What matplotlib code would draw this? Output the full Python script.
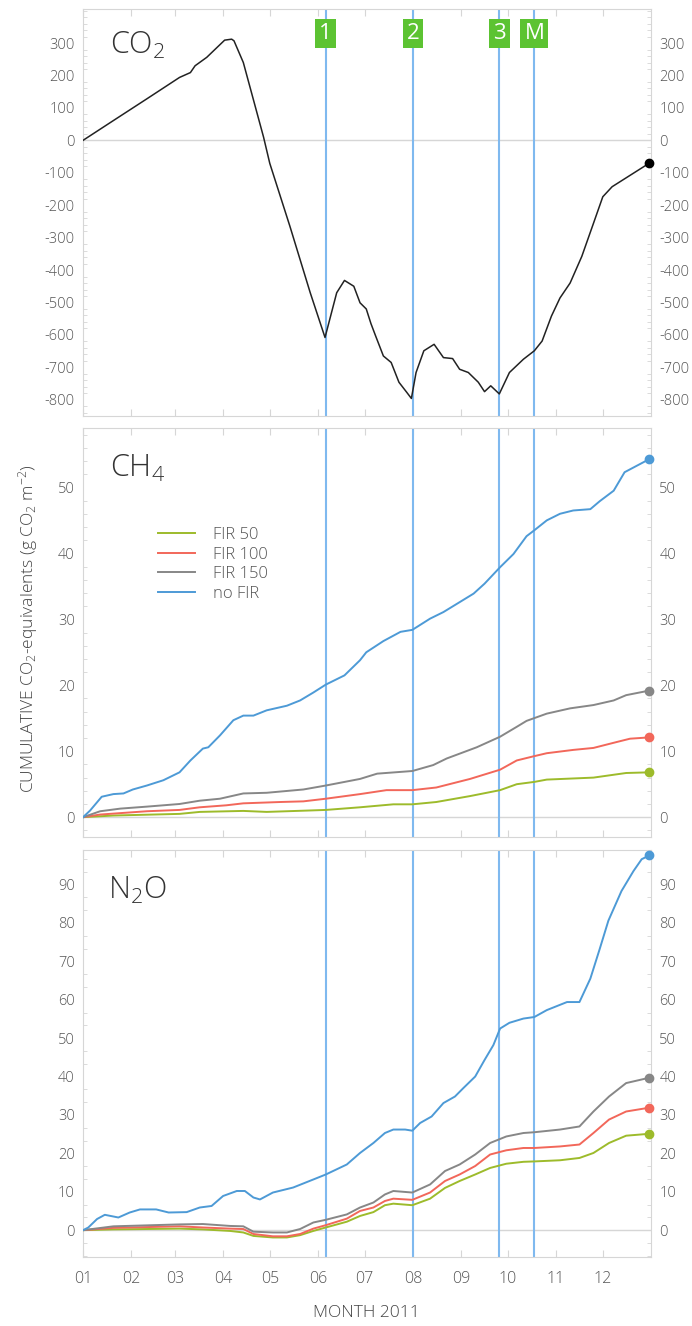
import matplotlib
matplotlib.use('Agg')
import matplotlib.pyplot as plt
from matplotlib.ticker import MultipleLocator, FixedLocator

plt.rcParams['font.family'] = ['Open Sans', 'DejaVu Sans']
plt.rcParams['font.weight'] = 'light'
plt.rcParams['mathtext.default'] = 'regular'
plt.rcParams['axes.unicode_minus'] = False

# x axis is day of year 2011
month_starts = [0, 31, 59, 90, 120, 151, 181, 212, 243, 273, 304, 334]
month_labels = ['01', '02', '03', '04', '05', '06', '07', '08', '09', '10', '11', '12']

event_days = [156, 212, 267.5, 290]
event_labels = ['1', '2', '3', 'M']

series_names = ['FIR 50', 'FIR 100', 'FIR 150', 'no FIR']
series_colors = ['#9dbb2b', '#f2675a', '#878787', '#4d9ad6']

# CO2
co2_day = [0, 19.5, 41, 62, 69, 72, 79.5, 86, 91, 95.5, 97, 103, 116, 120, 133, 146, 155.5, 163, 168, 174,
           178, 182, 185, 188, 193, 198, 203, 208, 211, 214, 219, 225.6, 231.6, 237.5, 242, 247.6, 254, 258,
           262, 267.5, 274, 283, 290, 295, 301, 306.5, 313, 320.5, 328, 334, 340, 364]
co2_val = [0, 61, 128, 194, 209, 230, 256, 286, 309, 312, 307, 240, 10, -71, -266, -470, -608, -470, -432, -450,
           -501, -520, -565, -603, -665, -685, -746, -777, -796, -716, -649, -629, -670, -673, -706, -716, -746, -775,
           -757, -782, -716, -675, -649, -619, -542, -486, -440, -358, -256, -174, -143, -70]

# CH4
ch4_fir50_day = [0, 19.5, 62, 75, 103, 118, 143.7, 156, 178, 199.4, 211.6, 227, 248.7, 268, 278.7, 290, 298, 328, 349, 364]
ch4_fir50_val = [0, 0.25, 0.5, 0.8, 0.95, 0.8, 1.0, 1.1, 1.5, 1.95, 1.95, 2.3, 3.2, 4.1, 5.0, 5.35, 5.7, 6.0, 6.7, 6.8]
ch4_fir100_day = [0, 11, 41, 62, 75, 92, 103, 126.6, 141.6, 156, 178, 195, 211.6, 227, 248.7, 268, 278.7, 289, 298,
                  315, 328, 343, 351.5, 364]
ch4_fir100_val = [0, 0.4, 0.9, 1.1, 1.5, 1.8, 2.1, 2.3, 2.4, 2.8, 3.5, 4.1, 4.1, 4.5, 5.8, 7.2, 8.6, 9.2, 9.7,
                  10.2, 10.5, 11.4, 11.9, 12.1]
ch4_fir150_day = [0, 11, 24, 41, 62, 75, 88, 103, 118, 141.6, 156, 178, 189, 211.6, 225, 233.7, 253, 268, 278.7, 285,
                  298, 313, 328, 341, 349, 364]
ch4_fir150_val = [0, 0.9, 1.3, 1.6, 2.0, 2.5, 2.8, 3.6, 3.7, 4.2, 4.8, 5.8, 6.6, 7.0, 7.9, 8.9, 10.6, 12.2, 13.7, 14.6,
                  15.7, 16.5, 17.0, 17.7, 18.5, 19.2]
ch4_nofir_day = [0, 4.5, 12, 19.5, 26, 32, 41, 51.6, 62, 69, 77, 80.5, 88, 96.6, 103, 109.5, 118, 131, 139.5, 148, 156,
                 168, 178, 182, 193, 204, 211.6, 223, 231.6, 242, 251, 258, 268, 276.6, 285, 290, 298, 306.5, 315,
                 326, 332, 341, 348, 356, 364]
ch4_nofir_val = [0, 1.0, 3.1, 3.5, 3.6, 4.2, 4.8, 5.6, 6.8, 8.6, 10.4, 10.6, 12.4, 14.7, 15.4, 15.4, 16.2, 16.9, 17.7,
                 18.9, 20.1, 21.5, 23.8, 25.0, 26.7, 28.1, 28.4, 30.1, 31.1, 32.6, 33.9, 35.4, 37.9, 39.9, 42.6, 43.5,
                 45.0, 46.0, 46.5, 46.7, 47.9, 49.5, 52.3, 53.3, 54.3]

# N2O
n2o_fir_day = [0, 19.5, 62, 77, 94.5, 103, 109.5, 122, 131, 139.5, 148, 156, 169.5, 178, 186.6, 194, 199.4, 211.6,
               223, 232.6, 242, 252, 261.6, 272, 283, 290, 306.5, 319, 328, 338, 349, 364]
n2o_fir50_val = [0, 0.2, 0.4, 0.2, -0.2, -0.6, -1.5, -1.9, -1.9, -1.3, -0.2, 0.7, 2.2, 3.7, 4.7, 6.5, 6.9, 6.5,
                 8.2, 11.0, 12.8, 14.5, 16.2, 17.3, 17.8, 17.9, 18.2, 18.8, 20.1, 22.7, 24.6, 25.1]
n2o_fir100_val = [0, 0.6, 1.0, 0.7, 0.4, 0.3, -1.0, -1.6, -1.6, -1.0, 0.4, 1.3, 3.0, 5.0, 5.9, 7.6, 8.2, 7.9,
                  9.8, 12.8, 14.5, 16.7, 19.7, 20.8, 21.4, 21.4, 21.8, 22.3, 25.3, 28.8, 30.9, 31.9]
n2o_fir150_val = [0, 1.0, 1.5, 1.6, 1.1, 1.0, -0.4, -0.6, -0.6, 0.3, 2.0, 2.7, 4.1, 5.9, 7.2, 9.3, 10.2, 9.8,
                  11.9, 15.4, 17.1, 19.7, 22.7, 24.4, 25.3, 25.5, 26.2, 27.0, 30.9, 34.8, 38.3, 39.7]
n2o_nofir_day = [0, 3.4, 9, 14, 22.7, 30, 36.6, 47, 55, 66.6, 75, 82.6, 90, 98.8, 104, 109.5, 113.7, 122, 135, 148,
                 156, 169.5, 178, 186.6, 194, 199.4, 207, 211.6, 216.6, 224, 231.6, 239, 244.4, 252, 258, 263.7, 268,
                 274, 283, 290, 298, 311, 319, 326, 332, 337.6, 346, 353.7, 359, 364]
n2o_nofir_val = [0, 0.7, 2.9, 4.0, 3.3, 4.6, 5.4, 5.4, 4.6, 4.7, 5.9, 6.3, 8.9, 10.2, 10.2, 8.5, 8.0, 9.8, 11.1, 13.2,
                 14.5, 17.1, 20.1, 22.7, 25.3, 26.2, 26.2, 25.9, 27.9, 29.6, 33.1, 34.8, 37.0, 40.0, 44.3, 48.2, 52.5,
                 54.0, 55.1, 55.5, 57.3, 59.4, 59.4, 65.5, 73.2, 80.6, 88.3, 93.5, 96.6, 97.6]

ch4_series = [(ch4_fir50_day, ch4_fir50_val), (ch4_fir100_day, ch4_fir100_val),
              (ch4_fir150_day, ch4_fir150_val), (ch4_nofir_day, ch4_nofir_val)]
n2o_series = [(n2o_fir_day, n2o_fir50_val), (n2o_fir_day, n2o_fir100_val),
              (n2o_fir_day, n2o_fir150_val), (n2o_nofir_day, n2o_nofir_val)]

co2_ticks = list(range(-800, 301, 100))
ch4_ticks = list(range(0, 51, 10))
n2o_ticks = list(range(0, 91, 10))

text_color = '#555555'
frame_color = '#d6d6d6'
event_color = '#7fb9ef'

fig = plt.figure(figsize=(6.92, 13.26), dpi=100)
ax1 = fig.add_axes([0.12, 0.6863, 0.8208, 0.3069])
ax2 = fig.add_axes([0.12, 0.3688, 0.8208, 0.3084], sharex=ax1)
ax3 = fig.add_axes([0.12, 0.0520, 0.8208, 0.3070], sharex=ax1)


def style_axes(ax, ylim, ticks, minor):
    ax.set_xlim(0, 365)
    ax.set_ylim(*ylim)
    ax.yaxis.set_major_locator(FixedLocator(ticks))
    ax.yaxis.set_minor_locator(MultipleLocator(minor))
    ax.set_xticks(month_starts)
    for s in ax.spines.values():
        s.set_color(frame_color)
    ax.tick_params(axis='both', which='both', direction='in', color=frame_color,
                   labelcolor=text_color, labelsize=10.5)
    ax.tick_params(axis='y', which='major', length=0, pad=6, left=True, right=True,
                   labelleft=True, labelright=True)
    ax.tick_params(axis='x', labelsize=11.5)
    ax.tick_params(axis='y', which='minor', length=3, left=True, right=True)
    ax.tick_params(axis='x', which='major', length=5, top=True, bottom=True, pad=10)
    ax.axhline(0, color=frame_color, lw=1, zorder=1)
    for d in event_days:
        ax.axvline(d, color=event_color, lw=1.5, zorder=2)


style_axes(ax1, (-850, 405), co2_ticks, 20)
style_axes(ax2, (-3, 59), ch4_ticks, 2)
style_axes(ax3, (-7, 99), n2o_ticks, 10 / 3)

for ax in (ax1, ax2):
    plt.setp(ax.get_xticklabels(), visible=False)
ax3.set_xticklabels(month_labels)

# CO2 panel
ax1.plot(co2_day, co2_val, color='#222222', lw=1.1, zorder=3)
ax1.plot(co2_day[-1], co2_val[-1], 'o', color='black', ms=6, zorder=4, clip_on=False)

for d, lab in zip(event_days, event_labels):
    ax1.text(d, 330, lab, color='white', fontsize=16, fontweight='normal', ha='center', va='center',
             zorder=5, bbox=dict(boxstyle='square,pad=0.18', fc='#5cc332', ec='none'))

# CH4 / N2O panels
for ax, series in ((ax2, ch4_series), (ax3, n2o_series)):
    for (d, v), name, c in zip(series, series_names, series_colors):
        ax.plot(d, v, color=c, lw=1.4, label=name, zorder=3)
        ax.plot(d[-1], v[-1], 'o', color=c, ms=6, zorder=4, clip_on=False)

ax2.legend(loc='upper left', bbox_to_anchor=(0.106, 0.795), frameon=False, fontsize=12,
           handlelength=2.2, handletextpad=1.1, labelspacing=0.22, labelcolor=text_color)

# panel titles
ax1.text(0.047, 0.91, 'CO$_2$', transform=ax1.transAxes, fontsize=22, color='#333333', va='center')
ax2.text(0.047, 0.9, 'CH$_4$', transform=ax2.transAxes, fontsize=22, color='#333333', va='center')
ax3.text(0.044, 0.9, 'N$_2$O', transform=ax3.transAxes, fontsize=22, color='#333333', va='center')

fig.text(0.04, 0.526, 'CUMULATIVE CO$_2$-equivalents (g CO$_2$ m$^{-2}$)', rotation=90,
         ha='center', va='center', fontsize=12.5, color='#444444')
fig.text(0.53, 0.01, 'MONTH 2011', ha='center', va='center', fontsize=12.5, color='#444444')

fig.savefig('out.png', dpi=100)
